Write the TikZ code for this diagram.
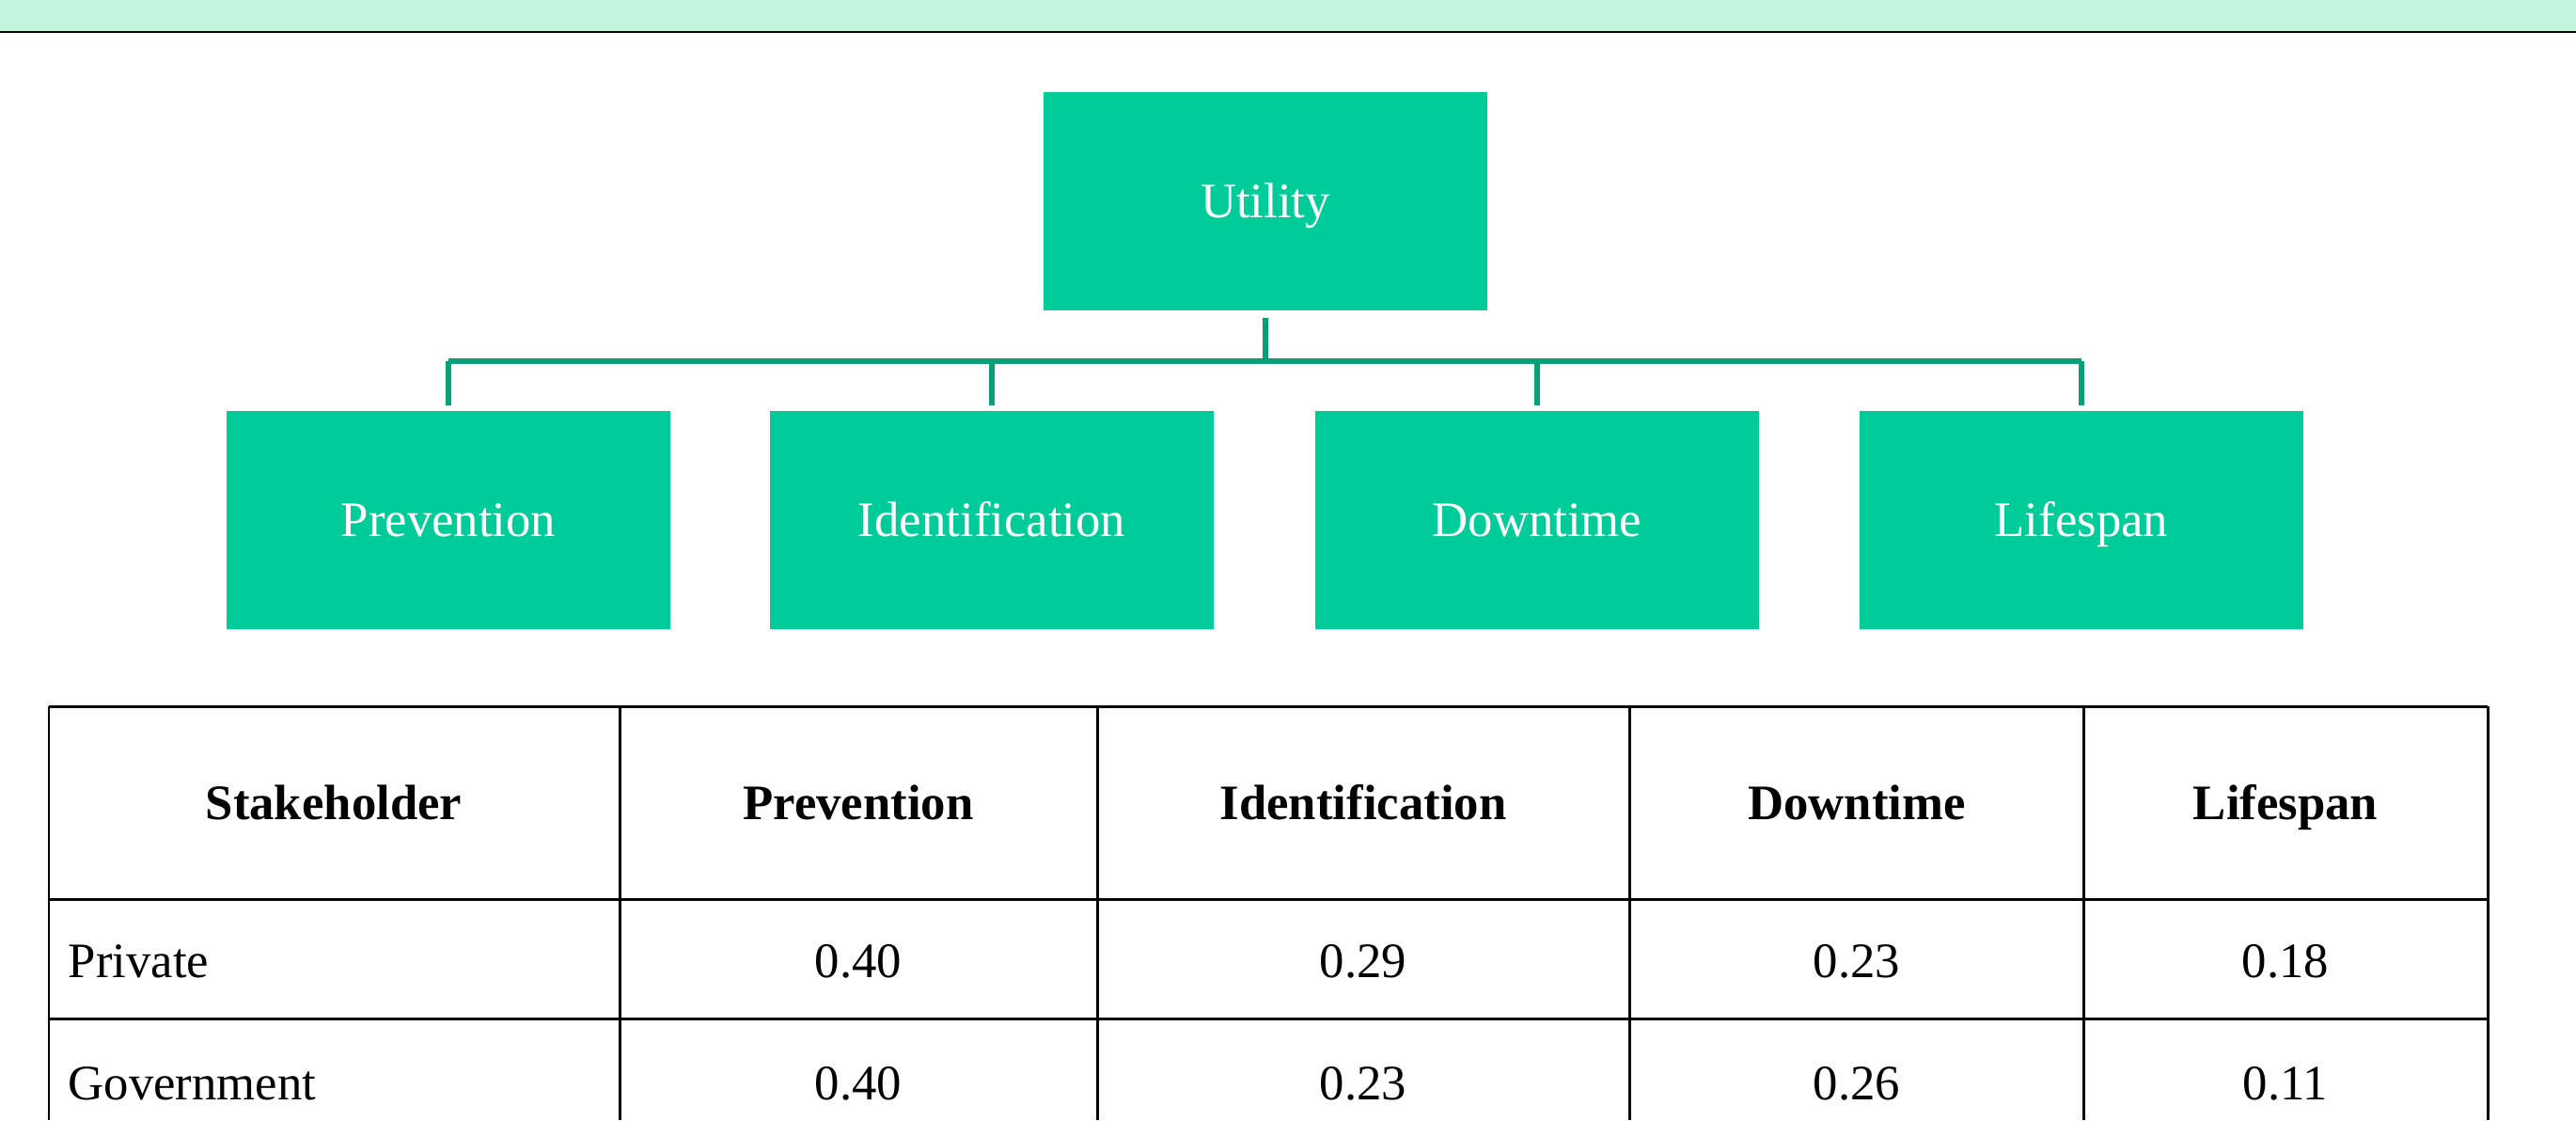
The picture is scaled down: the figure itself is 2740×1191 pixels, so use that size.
\documentclass[tikz,border=0pt]{standalone}
\usepackage{fontspec}
\setmainfont{Liberation Serif}
\usepackage{xcolor}
\definecolor{boxgreen}{HTML}{00CC99}
\definecolor{linkgreen}{HTML}{0A9F78}
\definecolor{bandgreen}{HTML}{C0F5DE}

\begin{document}
\begin{tikzpicture}[
        x=0.01cm, y=-0.01cm,
        box/.style={rectangle, fill=boxgreen, text=white, inner sep=0pt,
            text height=13.5pt, text depth=3.6pt,
            minimum width=4.72cm, minimum height=2.32cm, font=\fontsize{15}{18}\selectfont},
        link/.style={draw=linkgreen, line width=1.45pt},
        grid/.style={draw=black, line width=0.85pt},
        head/.style={inner sep=0pt, text height=13.5pt, text depth=3.6pt,
            font=\fontsize{15}{18}\selectfont\bfseries},
        cell/.style={inner sep=0pt, text height=13.5pt, text depth=3.6pt,
            font=\fontsize{15}{18}\selectfont}]
    \useasboundingbox (0,0) rectangle (2740,1191);
    \clip (0,0) rectangle (2740,1191);
    \fill[bandgreen] (0,0) rectangle (2740,33);
    \draw[black, line width=0.75pt] (0,34) -- (2740,34);

    \node[box] (util) at (1346,214) {Utility};
    \node[box] (prev) at (477,553) {Prevention};
    \node[box] (iden) at (1055,553) {Identification};
    \node[box] (down) at (1635,553) {Downtime};
    \node[box] (life) at (2214,553) {Lifespan};

    \coordinate (bus) at (1346,384);
    \draw[link] (util.south) ++(0,7) -- (bus);
    \draw[link] (prev.north |- bus) -- (life.north |- bus);
    \foreach \k in {prev,iden,down,life}
        \draw[link] (\k.north) ++(0,-5) -- (\k.north |- bus);

    \foreach \y in {751,956,1083}
        \draw[grid] (52,\y) -- (2646,\y);
    \foreach \x in {52,659,1167,1733,2216,2646}
        \draw[grid] (\x,751) -- (\x,1191);

    \foreach \x/\n/\t in {355/hstake/Stakeholder, 913/hprev/Prevention, 1450/hiden/Identification,
            1975/hdown/Downtime, 2431/hlife/Lifespan}
        \node[head] (\n) at (\x,854) {\t};

    \node[cell, anchor=west] (rpriv) at (72,1022) {Private};
    \node[cell, anchor=west] (rgov) at (72,1152) {Government};
    \foreach \x/\n/\a/\b in {913/prev/0.40/0.40, 1450/iden/0.29/0.23,
            1975/down/0.23/0.26, 2431/life/0.18/0.11} {
        \node[cell] (p\n) at (\x,1022) {\a};
        \node[cell] (g\n) at (\x,1152) {\b};
    }
\end{tikzpicture}
\end{document}
